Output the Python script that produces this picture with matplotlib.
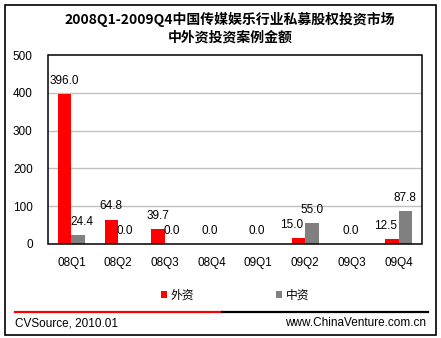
import matplotlib
matplotlib.use("Agg")
import matplotlib.pyplot as plt
from matplotlib.patches import Patch, Rectangle
from matplotlib.lines import Line2D

plt.rcParams['font.family'] = ['Liberation Sans', 'Noto Sans CJK SC', 'DejaVu Sans']

title_lines = ["2008Q1-2009Q4中国传媒娱乐行业私募股权投资市场", "中外资投资案例金额"]
quarters = ["08Q1", "08Q2", "08Q3", "08Q4", "09Q1", "09Q2", "09Q3", "09Q4"]
foreign = [396.0, 64.8, 39.7, 0.0, 0.0, 15.0, 0.0, 12.5]
domestic = [24.4, 0.0, 0.0, 0.0, 0.0, 55.0, 0.0, 87.8]
series_names = ["外资", "中资"]
y_ticks = [0, 100, 200, 300, 400, 500]
source_text = "CVSource, 2010.01"
site_text = "www.ChinaVenture.com.cn"

RED = "#ff0000"
GRAY = "#808080"
W, H = 441, 338
FS = 8.5

fig = plt.figure(figsize=(W / 100, H / 100), dpi=100)
fig.patch.set_facecolor("white")

def fx(px):
    return px / W

def fy(py):
    return 1 - py / H

# outer frame
fig.add_artist(Rectangle((fx(5), fy(335)), fx(431), 330 / H, transform=fig.transFigure,
                         fill=False, edgecolor="black", linewidth=1.2))

# title
fig.text(fx(230), fy(19), title_lines[0], ha="center", va="center", fontsize=10,
         fontweight="bold", family=["Noto Sans CJK SC"])
fig.text(fx(230), fy(38), title_lines[1], ha="center", va="center", fontsize=10,
         fontweight="bold", family=["Noto Sans CJK SC"])

ax = fig.add_axes([fx(48), fy(244), fx(374), 189 / H])
x = list(range(len(quarters)))
bw = 0.29
xr = [i - bw / 2 for i in x]
xg = [i + bw / 2 for i in x]
ax.bar(xr, foreign, width=bw, color=RED, label=series_names[0], zorder=3)
ax.bar(xg, domestic, width=bw, color=GRAY, label=series_names[1], zorder=3)

ax.set_xlim(-0.5, len(quarters) - 0.5)
ax.set_ylim(0, 500)
ax.set_yticks(y_ticks)
ax.set_yticklabels([str(v) for v in y_ticks], fontsize=FS)
ax.set_xticks(x)
ax.set_xticklabels(quarters, fontsize=FS)
ax.tick_params(axis="both", length=0)
ax.tick_params(axis="y", pad=11)
ax.tick_params(axis="x", pad=9.5)
for t in y_ticks[1:-1]:
    ax.axhline(t, color="#c0c0c0", linewidth=1, zorder=1)
for s in ax.spines.values():
    s.set_visible(False)
# plot-area frame
ax.add_patch(Rectangle((0, 0), 1, 1, transform=ax.transAxes, fill=False,
                       edgecolor="black", linewidth=1.1, clip_on=False, zorder=6))

# value labels
def label(xpos, val, dx):
    ax.annotate(f"{val:.1f}", (xpos, val), xytext=(dx, 9.4), textcoords="offset points",
                ha="center", va="center", fontsize=FS, zorder=4)

for i in x:
    f, d = foreign[i], domestic[i]
    if f == 0 and d == 0:
        label(i, 0.0, -1)
        continue
    fdx = gdx = 0
    if f > 0 and d > 0:
        if f < d:
            fdx = -4.5
        else:
            gdx = 3
    if f > 0:
        label(xr[i], f, fdx)
    label(xg[i], d, gdx)

# legend
handles = [Patch(facecolor=RED, edgecolor="none"), Patch(facecolor=GRAY, edgecolor="none")]
fig.legend(handles, series_names, loc="center", bbox_to_anchor=(fx(235), fy(295)),
           ncol=2, frameon=False, fontsize=FS, handlelength=0.5, handleheight=0.5,
           handletextpad=0.35, columnspacing=6.9, borderaxespad=0,
           prop={"family": ["Noto Sans CJK SC"], "size": FS})

# footer rule
fig.add_artist(Line2D([fx(15), fx(222)], [fy(311.5), fy(311.5)], color=RED, linewidth=1.6,
                      transform=fig.transFigure))
fig.add_artist(Line2D([fx(222), fx(428)], [fy(311.5), fy(311.5)], color="black", linewidth=1.6,
                      transform=fig.transFigure))
fig.text(fx(15), fy(323), source_text, ha="left", va="center", fontsize=FS)
fig.text(fx(426), fy(323), site_text, ha="right", va="center", fontsize=FS)

fig.savefig("out.png", dpi=100)
